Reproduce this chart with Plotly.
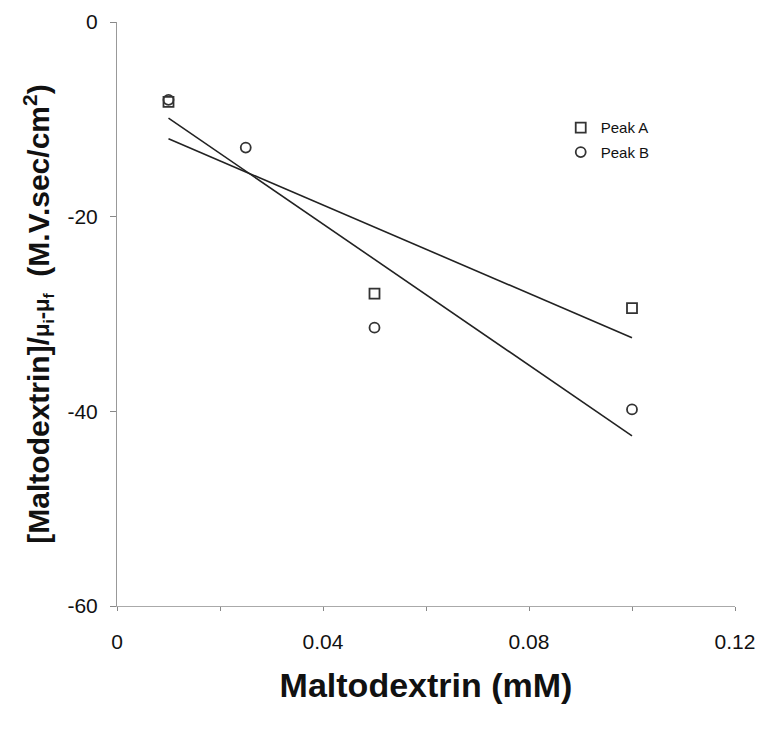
import numpy as np
import plotly.graph_objects as go

# Data
peak_a_x = [0.01, 0.05, 0.10]
peak_a_y = [-8.2, -27.9, -29.4]
peak_b_x = [0.01, 0.025, 0.05, 0.10]
peak_b_y = [-8.0, -12.9, -31.4, -39.8]

x_tick_vals = [0, 0.02, 0.04, 0.06, 0.08, 0.10, 0.12]
x_tick_text = ["0", "", "0.04", "", "0.08", "", "0.12"]
y_tick_vals = [0, -20, -40, -60]
y_tick_text = ["0", "-20", "-40", "-60"]

FONT = "Liberation Sans, Arial, sans-serif"
MARK = "#333333"

fig = go.Figure()

# Linear regression lines drawn between first and last x of each series
for xs, ys in [(peak_a_x, peak_a_y), (peak_b_x, peak_b_y)]:
    k, b = np.polyfit(xs, ys, 1)
    lx = np.array([min(xs), max(xs)])
    fig.add_trace(go.Scatter(x=lx, y=k * lx + b, mode="lines",
                             line=dict(color="#222222", width=1.6),
                             showlegend=False, hoverinfo="skip"))

fig.add_trace(go.Scatter(x=peak_a_x, y=peak_a_y, mode="markers", name="Peak A",
                         legendgroup="a",
                         marker=dict(symbol="square-open", size=10, color=MARK,
                                     line=dict(width=1.8, color=MARK))))
fig.add_trace(go.Scatter(x=peak_b_x, y=peak_b_y, mode="markers", name="Peak B",
                         legendgroup="b",
                         marker=dict(symbol="circle-open", size=10, color=MARK,
                                     line=dict(width=1.8, color=MARK))))

fig.update_layout(
    width=762, height=729,
    margin=dict(l=117, r=27, t=22, b=123, autoexpand=False),
    paper_bgcolor="white", plot_bgcolor="white",
    font=dict(family=FONT, color="#111111"),
    legend=dict(x=0.718, y=0.847, xanchor="left", yanchor="top",
                bgcolor="rgba(0,0,0,0)", font=dict(size=15, family=FONT),
                itemwidth=30, tracegroupgap=2),
    xaxis=dict(range=[0, 0.12], tickvals=x_tick_vals, ticktext=x_tick_text,
               showgrid=False, zeroline=False, showline=True, automargin=False,
               linecolor="#aaaaaa", linewidth=1, ticks="outside", ticklen=4,
               tickcolor="#888888", tickfont=dict(size=21, family=FONT),
               ticklabelstandoff=13,
               title=dict(text="<b>Maltodextrin (mM)</b>",
                          font=dict(size=34, family=FONT), standoff=20)),
    yaxis=dict(range=[-60, 0], tickvals=y_tick_vals, ticktext=y_tick_text,
               showgrid=False, zeroline=False, showline=True, automargin=False,
               linecolor="#999999", linewidth=1, ticks="outside", ticklen=6,
               tickcolor="#888888", tickfont=dict(size=21, family=FONT),
               ticklabelstandoff=8,
               title=dict(text="<b>[Maltodextrin]/<span style='font-size:22px'>μ<sub>i</sub>-μ<sub>f</sub></span>  (M.V.sec/cm<sup>2</sup>)</b>",
                          font=dict(size=30, family=FONT), standoff=8)),
)

fig.write_html("out.html")
